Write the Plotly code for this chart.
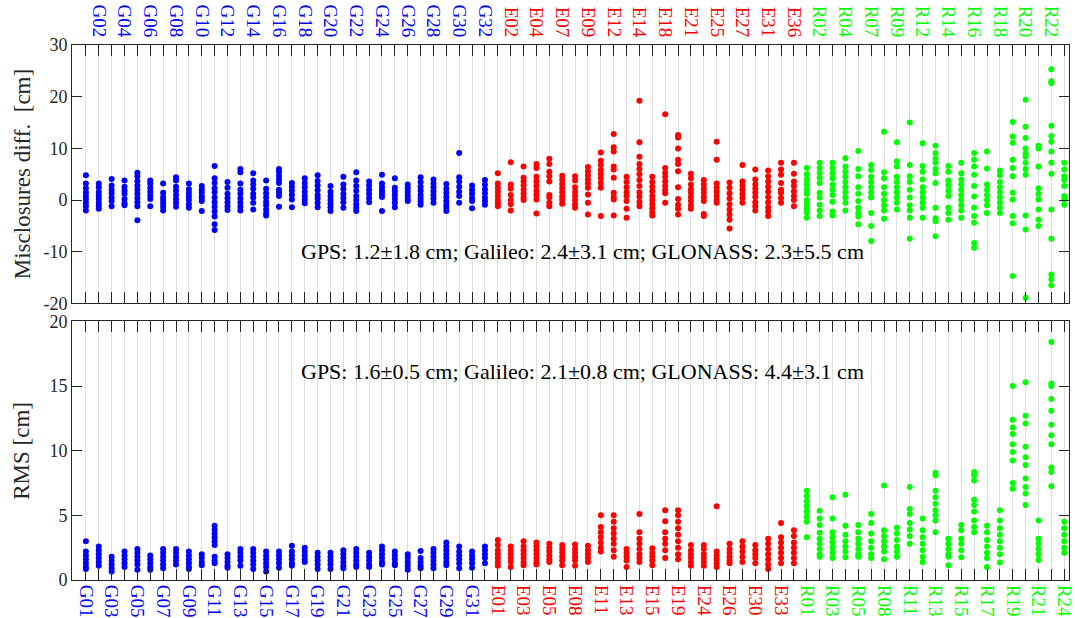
import plotly.graph_objects as go

# ---- satellites (PRN labels) per constellation ----
gps_sats = ["G01", "G02", "G03", "G04", "G05", "G06", "G07", "G08", "G09", "G10",
            "G11", "G12", "G13", "G14", "G15", "G16", "G17", "G18", "G19", "G20",
            "G21", "G22", "G23", "G24", "G25", "G26", "G27", "G28", "G29", "G30",
            "G31", "G32"]
gal_sats = ["E01", "E02", "E03", "E04", "E05", "E07", "E08", "E09", "E11", "E12",
            "E13", "E14", "E15", "E18", "E19", "E21", "E24", "E25", "E26", "E27",
            "E30", "E31", "E33", "E36"]
glo_sats = ["R01", "R02", "R03", "R04", "R05", "R07", "R08", "R09", "R11", "R12",
            "R13", "R14", "R15", "R16", "R17", "R18", "R19", "R20", "R21", "R22",
            "R24"]

# ---- misclosure differences [cm], one list per satellite ----
gps_misc = [
    [4.8, 3.2, 2.3, 1.5, 0.8, 0.2, -0.5, -1.2, -2.0],
    [3.2, 2.5, 1.6, 0.9, 0.2, -0.5, -1.1, -1.7],
    [4.1, 2.8, 2.0, 1.3, 0.5, -0.2, -1.2],
    [3.8, 2.6, 1.8, 1.2, 0.2, -0.6, -1.0],
    [5.3, 4.6, 3.7, 2.8, 2.0, 1.2, 0.4, -0.4, -1.2, -3.9],
    [3.8, 3.2, 2.4, 1.6, 0.9, 0.2, -1.2],
    [3.2, 1.4, 0.6, 0.0, -0.6, -1.3, -2.0],
    [4.4, 3.8, 2.6, 1.8, 1.0, 0.2, -0.5, -1.3],
    [3.2, 2.1, 1.4, 0.7, 0.0, -0.8, -1.5],
    [2.7, 2.1, 1.5, 0.8, 0.3, -0.2, -2.1],
    [6.6, 4.2, 3.3, 2.3, 1.5, 0.5, -0.4, -1.3, -2.2, -3.2, -4.7, -5.8],
    [3.5, 2.4, 1.2, 0.4, -0.4, -1.2, -1.9],
    [6.0, 5.4, 3.2, 2.0, 1.2, 0.3, -0.5, -1.3, -2.0],
    [5.2, 3.8, 3.0, 2.2, 1.2, 0.5, -0.5, -1.8],
    [3.8, 2.2, 1.3, 0.5, -0.3, -1.0, -1.8, -2.6, -3.0],
    [6.0, 5.5, 4.7, 4.0, 3.3, 2.0, 1.4, 0.8, -1.3],
    [3.3, 2.6, 1.8, 1.0, 0.1, -1.4],
    [4.2, 3.3, 2.5, 1.6, 0.8, 0.1, -0.6],
    [4.8, 3.7, 2.8, 1.9, 1.0, 0.3, -0.5, -1.4],
    [2.7, 1.6, 0.8, 0.0, -0.7, -1.4, -2.1],
    [4.5, 3.0, 2.2, 1.2, 0.4, -0.4, -1.5],
    [5.4, 3.8, 2.7, 1.8, 0.8, 0.0, -0.8, -1.5, -2.1],
    [3.6, 2.8, 2.0, 1.2, 0.4, -0.4],
    [4.9, 3.2, 2.5, 1.8, 1.2, 0.6, -2.1],
    [4.2, 2.4, 1.7, 1.0, 0.2, -0.5, -1.4],
    [3.0, 2.3, 1.6, 0.9, 0.2, -0.2],
    [4.4, 3.5, 2.6, 1.8, 1.0, 0.3, -0.3, -0.9],
    [4.0, 3.2, 2.5, 1.7, 1.0, 0.3, -0.5],
    [3.1, 2.2, 1.4, 0.6, -0.2, -0.9, -1.5, -2.1],
    [9.1, 4.4, 3.6, 2.6, 1.6, 0.8, -0.5],
    [2.8, 2.0, 1.2, 0.4, -0.2, -1.6],
    [3.9, 3.0, 2.1, 1.3, 0.5, -0.2, -0.9],
]
gal_misc = [
    [5.2, 3.2, 2.4, 1.6, 0.8, 0.0, -0.6, -1.2],
    [7.3, 3.0, 2.2, 1.0, 0.0, -0.8, -2.0],
    [6.5, 4.3, 3.6, 2.8, 2.0, 1.2, 0.5, 0.0],
    [7.0, 6.2, 4.5, 3.6, 2.7, 1.8, 1.0, 0.1, -2.6],
    [8.0, 7.0, 5.5, 4.6, 3.6, 1.0, 0.5, -0.5, -1.2],
    [4.7, 3.9, 3.1, 2.3, 1.5, 0.7, 0.0, -0.7],
    [4.6, 3.8, 2.5, 1.6, 0.8, 0.0, -0.8, -1.5],
    [6.4, 5.6, 4.8, 4.0, 3.2, 2.4, 1.1, -0.5, -2.8],
    [9.2, 7.6, 6.8, 5.8, 5.0, 4.2, 3.3, 2.4, -3.1],
    [12.8, 10.2, 9.4, 6.5, 5.9, 4.3, 1.4, 0.6, 0.1, -3.0],
    [4.5, 3.5, 2.5, 1.5, 0.8, -0.2, -1.7, -3.4],
    [19.2, 11.2, 8.4, 7.0, 6.0, 5.0, 3.9, 2.7, 1.5, 0.7, -0.3, -1.2],
    [4.5, 3.5, 2.6, 1.7, 0.8, 0.0, -0.8, -1.6, -2.4, -3.0],
    [16.6, 6.2, 5.3, 4.5, 3.6, 2.7, 1.9, 1.3, -0.5],
    [12.6, 12.1, 10.0, 7.8, 7.0, 5.6, 2.5, 0.2, -0.9, -1.7, -2.8],
    [5.1, 4.2, 3.0, 2.1, 1.4, 0.6, -0.2, -1.0, -1.7],
    [3.9, 3.0, 2.2, 1.4, 0.6, -0.2, -2.7, -3.1],
    [11.3, 7.8, 3.2, 2.4, 1.6, 0.8, 0.0, -0.5],
    [3.4, 2.4, 1.3, 0.3, -0.8, -1.8, -2.8, -3.8, -5.5],
    [6.8, 3.6, 2.8, 2.0, 1.2, 0.4, -0.5],
    [5.9, 4.0, 3.0, 2.2, 1.4, 0.6, -0.4, -1.2, -2.0],
    [5.7, 4.6, 3.6, 2.6, 1.6, 0.6, -0.4, -1.4, -2.2, -3.1],
    [7.2, 5.9, 4.9, 3.3, 2.0, 1.4, 0.4, -0.5],
    [7.2, 5.1, 3.6, 2.7, 1.7, 0.8, 0.0, -1.2],
]
glo_misc = [
    [6.2, 5.0, 4.0, 3.0, 2.0, 1.2, 0.0, -0.8, -1.6, -2.4, -3.4],
    [7.2, 6.2, 5.3, 4.3, 3.3, 1.4, 0.5, -0.9, -2.0, -3.1],
    [7.2, 6.2, 5.2, 4.2, 3.0, 2.0, 1.0, -0.3, -2.2, -3.0],
    [8.1, 6.5, 5.5, 4.5, 3.5, 2.5, 1.5, 0.5, -0.5, -2.0],
    [9.5, 6.0, 4.6, 2.5, 1.2, -0.2, -1.5, -2.5, -3.2, -4.7],
    [6.8, 5.8, 4.5, 3.5, 2.5, 1.5, 0.5, -2.5, -5.0, -7.9],
    [13.2, 5.4, 4.2, 2.5, 1.2, 0.0, -1.0, -2.0, -3.6],
    [11.2, 7.5, 6.5, 4.5, 3.5, 2.5, 1.5, 0.5, -0.5, -1.8],
    [15.0, 6.8, 4.6, 3.5, 2.0, 0.5, -1.0, -2.0, -3.4, -7.5],
    [11.0, 6.6, 5.5, 4.0, 2.5, 1.5, 0.5, -0.5, -1.5, -3.4],
    [10.5, 9.1, 8.0, 7.2, 6.0, 5.2, 3.3, -1.5, -3.5, -4.1, -7.0],
    [6.6, 5.5, 3.8, 2.8, 1.8, 0.8, -1.5, -2.5, -3.8],
    [7.2, 5.2, 4.0, 3.0, 2.0, 1.0, 0.0, -1.0, -2.0, -3.4],
    [9.1, 7.8, 6.5, 4.9, 2.7, 0.7, -1.5, -3.1, -4.4, -8.3, -9.2],
    [9.4, 6.1, 3.0, 2.0, 1.0, 0.0, -1.0, -2.5],
    [5.7, 4.8, 3.5, 2.5, 1.5, 0.5, -0.5, -1.5, -2.5],
    [15.1, 12.3, 11.1, 7.8, 6.2, 4.6, 1.4, 0.1, -3.1, -4.5, -14.7],
    [19.4, 14.2, 12.0, 10.0, 9.0, 8.4, 7.2, 6.0, 4.9, -3.0, -5.7, -18.9],
    [10.5, 10.0, 6.5, 2.3, 1.2, 0.1, -1.8, -3.8, -5.0],
    [25.3, 23.0, 22.6, 14.4, 12.4, 11.3, 9.4, 7.2, 5.1, -1.8, -7.5, -14.4, -15.3, -16.5],
    [7.2, 5.9, 4.6, 3.9, 2.7, 0.8, 0.1, -0.9],
]

# ---- RMS [cm], one list per satellite ----
gps_rms = [
    [3.0, 2.2, 1.9, 1.6, 1.3, 1.0, 0.85],
    [2.6, 2.3, 2.0, 1.7, 1.4, 1.1],
    [1.8, 1.5, 1.2, 0.9, 0.65],
    [2.2, 1.9, 1.6, 1.3, 1.0],
    [2.4, 2.1, 1.8, 1.5, 1.2, 0.8],
    [1.9, 1.6, 1.3, 1.0, 0.8],
    [2.4, 2.1, 1.8, 1.5, 1.2, 0.9],
    [2.4, 2.1, 1.8, 1.5, 1.2],
    [2.2, 1.9, 1.6, 1.3, 1.0, 0.85],
    [2.0, 1.7, 1.4, 1.15],
    [4.2, 3.9, 3.6, 3.3, 3.0, 2.7, 1.8, 1.5, 1.3],
    [2.0, 1.7, 1.4, 1.1, 0.95],
    [2.4, 2.1, 1.8, 1.5, 1.1],
    [2.4, 2.1, 1.8, 1.5, 1.2, 0.85],
    [2.2, 1.9, 1.6, 1.3, 1.0, 0.65],
    [2.2, 1.9, 1.6, 1.3, 0.95],
    [2.65, 2.2, 1.9, 1.6, 1.3, 1.1],
    [2.5, 2.2, 1.9, 1.6, 1.4],
    [2.1, 1.8, 1.5, 1.2, 0.85],
    [2.1, 1.8, 1.5, 1.2, 0.85],
    [2.3, 2.0, 1.7, 1.4, 1.1, 0.9],
    [2.4, 2.1, 1.8, 1.5, 1.2, 1.0],
    [2.1, 1.8, 1.5, 1.2, 1.0],
    [2.6, 2.3, 2.0, 1.7, 1.4, 1.2],
    [2.2, 1.9, 1.6, 1.3, 1.15],
    [2.0, 1.7, 1.4, 1.1, 0.8],
    [2.25, 1.7, 1.4, 1.1, 0.9],
    [2.4, 2.1, 1.8, 1.5, 1.2, 0.9],
    [2.9, 2.6, 2.3, 2.0, 1.7, 1.4, 1.15],
    [2.6, 2.2, 1.9, 1.6, 1.3, 0.9],
    [2.2, 1.9, 1.6, 1.3, 0.95],
    [2.6, 2.3, 2.0, 1.7, 1.3],
]
gal_rms = [
    [3.1, 2.7, 2.3, 2.0, 1.7, 1.4, 1.1],
    [2.6, 2.3, 2.0, 1.7, 1.4, 1.0],
    [3.0, 2.6, 2.3, 2.0, 1.7, 1.4, 1.15],
    [2.9, 2.6, 2.3, 2.0, 1.7, 1.4, 1.2],
    [2.8, 2.5, 2.2, 1.9, 1.6, 1.4],
    [2.7, 2.4, 2.1, 1.8, 1.5, 1.15],
    [2.75, 2.4, 2.1, 1.8, 1.5, 1.1],
    [2.65, 2.3, 2.0, 1.7, 1.4],
    [5.0, 4.1, 3.7, 3.3, 2.9, 2.5, 2.2],
    [5.0, 4.5, 4.0, 3.6, 3.2, 2.8, 2.3, 1.8],
    [2.4, 2.1, 1.8, 1.5, 1.0],
    [5.1, 3.7, 3.2, 2.8, 2.4, 2.0, 1.7, 1.4],
    [2.45, 2.1, 1.8, 1.5, 1.15],
    [5.4, 4.55, 3.7, 3.2, 2.8, 2.3, 1.7],
    [5.4, 5.0, 4.5, 4.0, 3.5, 3.0, 2.5, 2.0, 1.6],
    [2.7, 2.3, 2.0, 1.7, 1.4, 1.1],
    [2.7, 2.4, 2.0, 1.7, 1.4, 1.1],
    [5.7, 2.2, 1.9, 1.6, 1.3, 1.0],
    [2.8, 2.4, 2.1, 1.8, 1.5, 1.3],
    [3.0, 2.6, 2.2, 1.8, 1.4],
    [2.7, 2.3, 2.0, 1.7, 1.3],
    [3.2, 2.8, 2.4, 2.0, 1.6, 1.2, 0.85],
    [4.4, 3.3, 2.9, 2.5, 2.1, 1.7, 1.3],
    [3.85, 3.4, 2.9, 2.5, 2.1, 1.7, 1.3],
]
glo_rms = [
    [6.9, 6.5, 6.1, 5.7, 5.3, 4.9, 4.5, 3.3],
    [5.35, 4.75, 4.25, 3.65, 3.2, 2.8, 2.4, 2.0, 1.8],
    [6.4, 4.75, 3.7, 3.3, 2.9, 2.5, 2.1, 1.7],
    [6.6, 4.2, 3.5, 3.0, 2.6, 2.2, 1.75],
    [4.25, 3.7, 3.2, 2.8, 2.4, 2.0, 1.8],
    [5.1, 4.4, 3.6, 3.0, 2.5, 2.0, 1.7],
    [7.3, 3.85, 3.4, 3.0, 2.6, 2.2, 1.6],
    [4.05, 3.6, 3.1, 2.6, 2.2, 1.8],
    [7.2, 5.5, 5.1, 4.4, 3.9, 3.4, 2.8],
    [4.75, 3.85, 3.3, 2.8, 2.3, 1.8, 1.4],
    [8.3, 8.1, 6.9, 6.4, 5.9, 5.4, 5.0, 4.6, 3.7],
    [3.2, 2.8, 2.4, 2.0, 1.8, 1.15],
    [4.25, 3.85, 3.2, 2.8, 2.3, 1.75],
    [8.35, 8.1, 7.7, 6.2, 5.8, 5.3, 4.6, 4.1, 3.7],
    [4.2, 3.7, 3.1, 2.6, 2.1, 1.7, 1.0],
    [5.4, 4.6, 4.0, 3.5, 3.0, 2.5, 2.0, 1.35],
    [15.0, 12.4, 11.8, 11.3, 10.5, 9.9, 9.25, 7.5, 7.05],
    [15.3, 12.7, 12.1, 10.3, 9.5, 8.9, 7.85, 7.2, 6.7, 5.8],
    [4.6, 3.2, 2.8, 2.4, 2.0, 1.55],
    [18.4, 15.2, 15.0, 14.0, 13.1, 12.0, 11.2, 10.5, 8.7, 8.35, 7.25],
    [4.5, 4.0, 3.5, 3.0, 2.5, 2.1],
]

# ---- summary statistics shown on each panel ----
misc_summary = "GPS: 1.2\u00b11.8 cm; Galileo: 2.4\u00b13.1 cm; GLONASS: 2.3\u00b15.5 cm"
rms_summary = "GPS: 1.6\u00b10.5 cm; Galileo: 2.1\u00b10.8 cm; GLONASS: 4.4\u00b13.1 cm"

misc_ticks = [-20, -10, 0, 10, 20, 30]
misc_ticklabels = ["-20", "-10", "0", "10", "20", "30"]
rms_ticks = [0, 5, 10, 15, 20]
rms_ticklabels = ["0", "5", "10", "15", "20"]

FONT = "Liberation Serif"
AXC = "#262626"
GRID = "#dedede"
systems = [
    (gps_sats, gps_misc, gps_rms, "#0000ff"),
    (gal_sats, gal_misc, gal_rms, "#ff0000"),
    (glo_sats, glo_misc, glo_rms, "#00ff00"),
]

fig = go.Figure()
all_labels, all_colors = [], []
offset = 0
for sats, misc, rms, col in systems:
    for vals, xax, yax in [(misc, "x", "y"), (rms, "x2", "y2")]:
        xs, ys = [], []
        for k, v in enumerate(vals):
            xs += [offset + k] * len(v)
            ys += v
        fig.add_trace(go.Scatter(
            x=xs, y=ys, mode="markers", xaxis=xax, yaxis=yax,
            marker=dict(color=col, size=6, line=dict(width=0)),
            showlegend=False, hoverinfo="skip"))
    all_labels += sats
    all_colors += [col] * len(sats)
    offset += len(sats)

n = len(all_labels)
idx = list(range(n))
top_text = [f"<span style='color:{c}'>{s}</span>" if i % 2 == 1 else ""
            for i, (s, c) in enumerate(zip(all_labels, all_colors))]
bot_text = [f"<span style='color:{c}'>{s}</span>" if i % 2 == 0 else ""
            for i, (s, c) in enumerate(zip(all_labels, all_colors))]

xrange = [-1.08, 76.37]
common_x = dict(range=xrange, tickmode="array", tickvals=idx, tickangle=90,
                ticks="inside", ticklen=11, tickcolor=AXC, tickwidth=1,
                showline=True, linecolor=AXC, linewidth=1, mirror="ticks",
                showgrid=True, gridcolor=GRID, gridwidth=1, zeroline=False,
                ticklabeloverflow="allow",
                tickfont=dict(family=FONT, size=19))
common_y = dict(ticks="inside", ticklen=10, tickcolor=AXC, tickwidth=1,
                showline=True, linecolor=AXC, linewidth=1, mirror="ticks",
                showgrid=False, zeroline=False, tickmode="array",
                tickfont=dict(family=FONT, size=18, color="#262626"))

fig.update_layout(
    width=1075, height=618,
    margin=dict(l=72, r=0, t=45, b=36),
    paper_bgcolor="white", plot_bgcolor="white",
    xaxis=dict(common_x, anchor="y", side="top", ticktext=top_text),
    yaxis=dict(common_y, domain=[0.5169, 1.0], anchor="x", range=[-20, 30],
               tickvals=misc_ticks, ticktext=misc_ticklabels),
    xaxis2=dict(common_x, anchor="y2", side="bottom", ticktext=bot_text),
    yaxis2=dict(common_y, domain=[0.0, 0.4833], anchor="x2", range=[0, 20],
                tickvals=rms_ticks, ticktext=rms_ticklabels),
)

fig.add_annotation(x=38.6, y=-10, xref="x", yref="y", text=misc_summary,
                   showarrow=False, xanchor="center",
                   font=dict(family=FONT, size=22, color="black"))
fig.add_annotation(x=38.6, y=16.1, xref="x2", yref="y2", text=rms_summary,
                   showarrow=False, xanchor="center",
                   font=dict(family=FONT, size=22, color="black"))
fig.add_annotation(x=0, y=0.5 * (0.5169 + 1.0), xref="paper", yref="paper",
                   xshift=-50, xanchor="center", yanchor="middle",
                   text="Misclosures diff.  [cm]", textangle=-90,
                   showarrow=False, font=dict(family=FONT, size=23, color="#262626"))
fig.add_annotation(x=0, y=0.5 * 0.4833, xref="paper", yref="paper",
                   xshift=-50, xanchor="center", yanchor="middle",
                   text="RMS [cm]", textangle=-90,
                   showarrow=False, font=dict(family=FONT, size=23, color="#262626"))

fig.write_html("out.html")
